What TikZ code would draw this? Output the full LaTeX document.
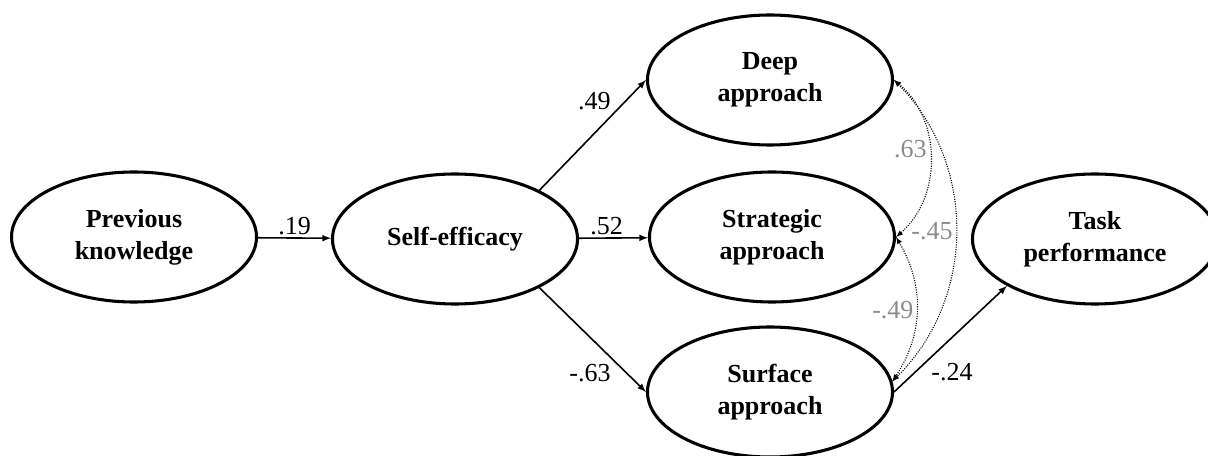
\documentclass[tikz,border=0pt]{standalone}
\usepackage{fontspec}
\setmainfont{Liberation Serif}
\usepackage{tikz}
\usetikzlibrary{shapes,arrows,positioning}
\tikzstyle{latent} = [ellipse, draw, line width=2.3pt, minimum width=183.75pt, minimum height=97.5pt, inner sep=0pt, align=center, font=\fontsize{19.5}{24}\selectfont\bfseries]
\tikzstyle{line} = [draw, -latex, line width=1.2pt]
\tikzstyle{cov} = [draw, densely dotted, latex-latex, line width=0.8pt]
\tikzstyle{coef} = [font=\fontsize{19.5}{24}\selectfont, inner sep=2pt]
\tikzstyle{gcoef} = [coef, text=black!45]

\begin{document}
\begin{tikzpicture}[x=0.75pt, y=-0.75pt]
			\useasboundingbox (0, 0) rectangle (1208, 456);
			\node [latent] (prev) at (134, 237) {Previous\\knowledge};
			\node [latent] (self) at (455, 239) {Self-efficacy};
			\node [latent] (deep) at (770, 80) {Deep\\approach};
			\node [latent] (strat) at (772, 237) {Strategic\\approach};
			\node [latent] (surf) at (770, 392) {Surface\\approach};
			\node [latent] (task) at (1095, 239) {Task\\performance};
			
			\path [line] (prev) -- node [coef, above] {.19} (self);
			\path [line] (self.30) -- node [coef, pos=0.7, above left] {.49} (deep.west);
			\path [line] (self) -- node [coef, above, pos=0.4] {.52} (strat);
			\path [line] (self.-30) -- node [coef, pos=0.7, below left] {-.63} (surf.west);
			\path [line] (surf.east) -- node [coef, pos=0.3, below right] {-.24} (task.208);
			
			\path [cov] (deep.east) to [bend left=50] node [gcoef, left, pos=0.45] {.63} (strat.east);
			\path [cov] (deep.east) to [bend left=45] node [gcoef, left] {-.45} (surf.5);
			\path [cov] (strat.east) to [bend left=32] node [gcoef, left] {-.49} (surf.5);
		\end{tikzpicture}
\end{document}
